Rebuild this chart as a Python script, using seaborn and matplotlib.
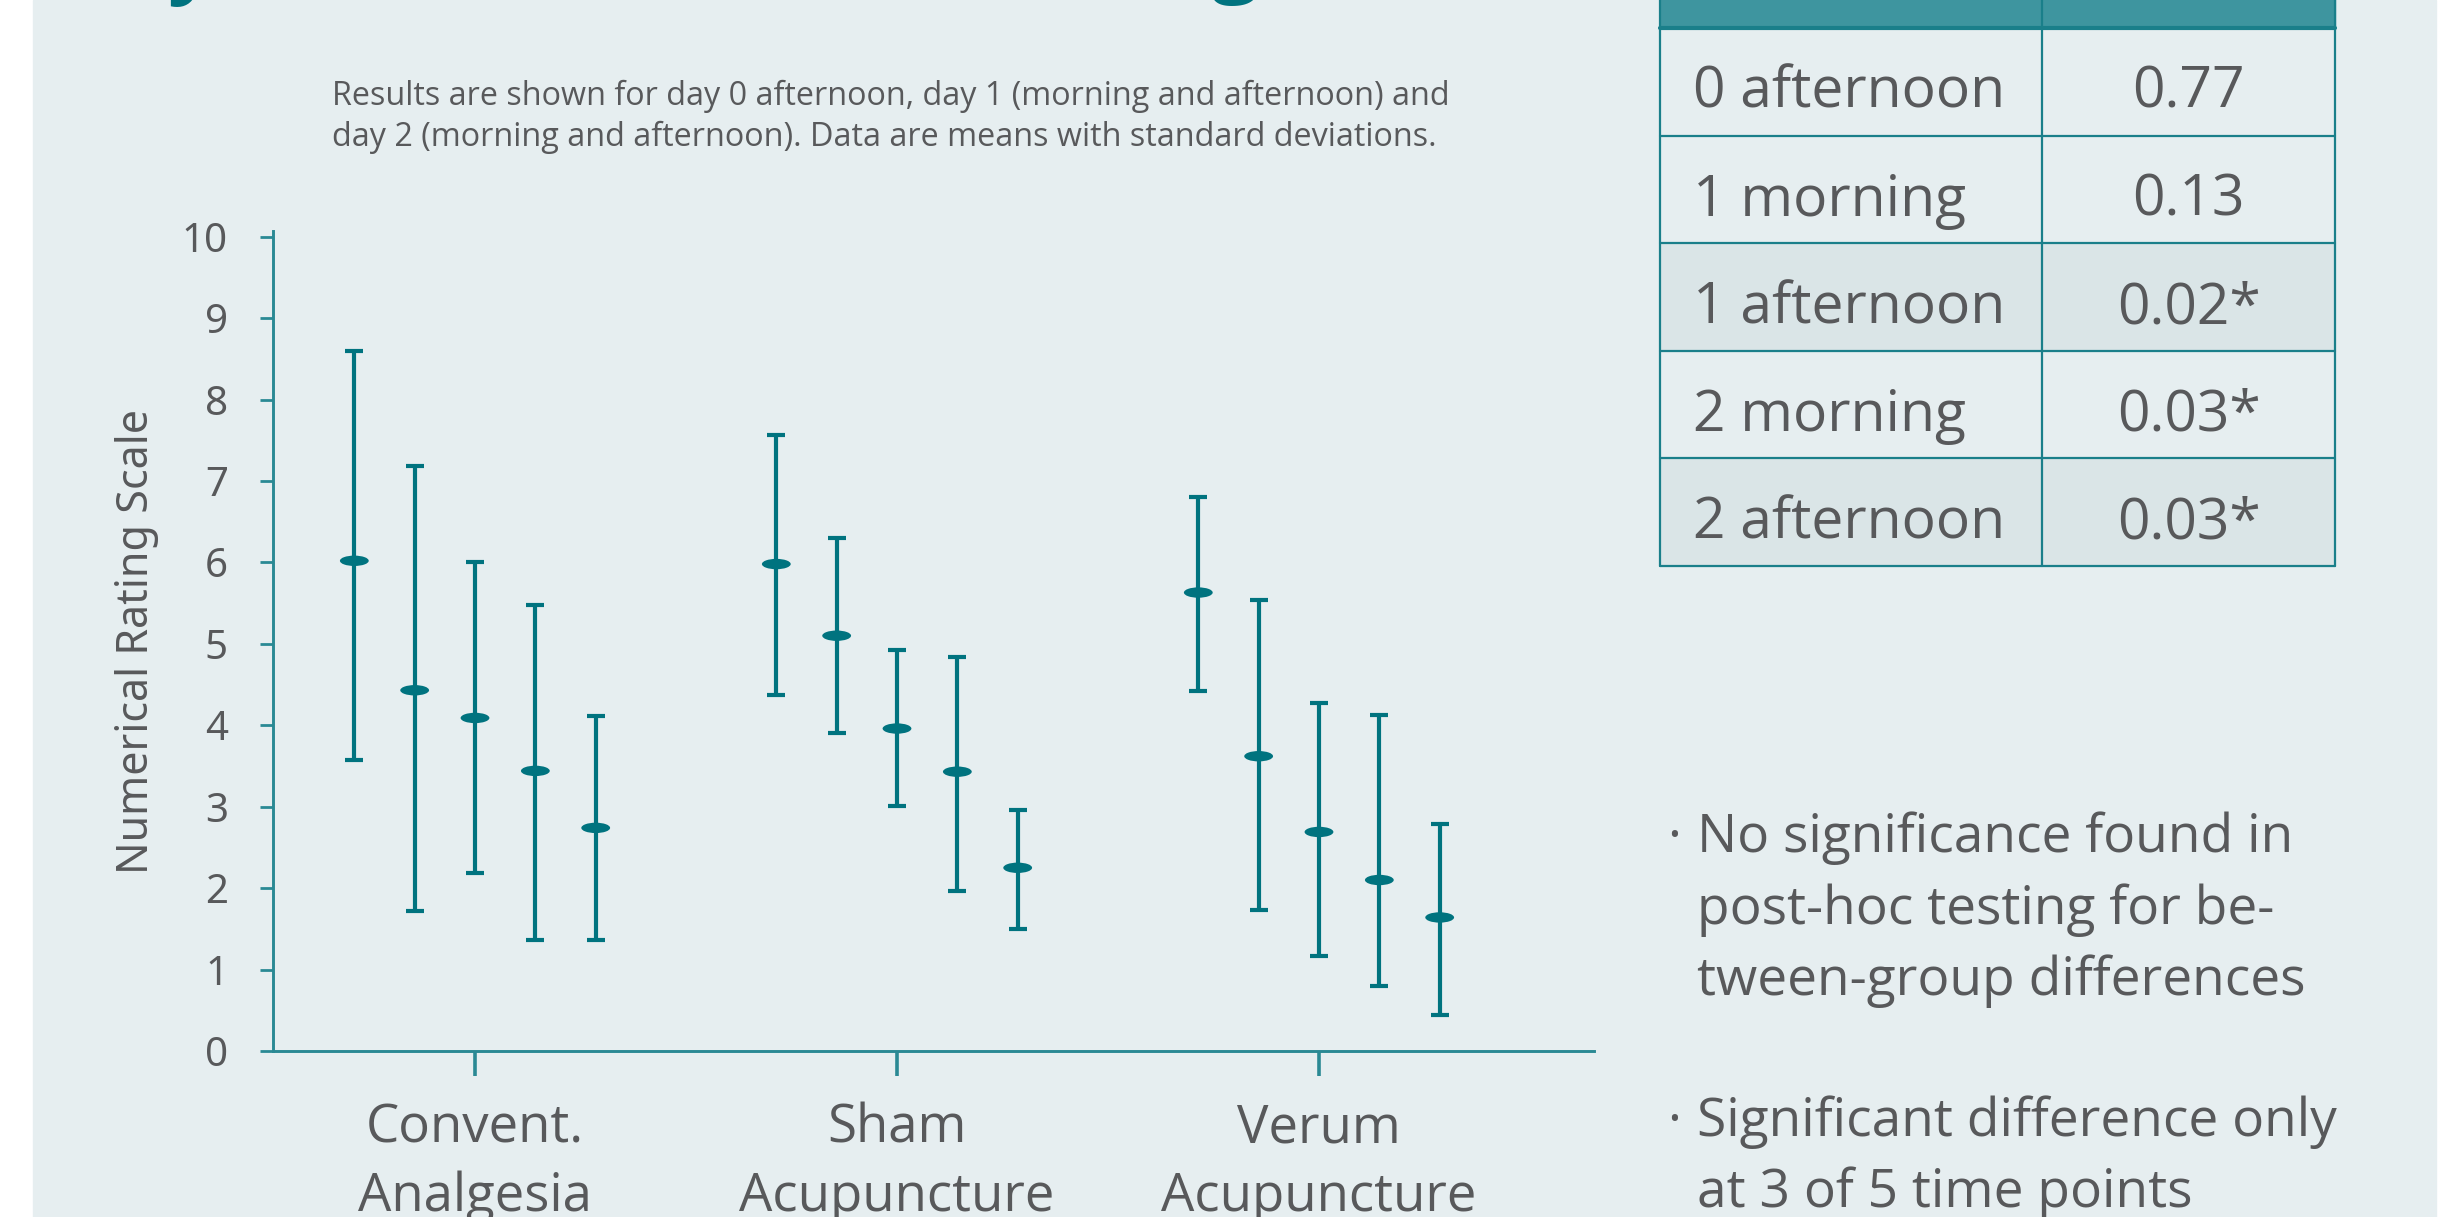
import numpy as np
import pandas as pd
import seaborn as sns
import matplotlib.pyplot as plt
from matplotlib.path import Path
from matplotlib.transforms import Affine2D
from matplotlib.patches import Rectangle

# Groups, time points and p-values (repeated measures comparison)
groups = ["Convent.\nAnalgesia", "Sham\nAcupuncture", "Verum\nAcupuncture"]
time_points = ["0 afternoon", "1 morning", "1 afternoon", "2 morning", "2 afternoon"]
p_values = ["0.77", "0.13", "0.02*", "0.03*", "0.03*"]

# NRS means with the ends of the standard deviation whiskers, per time point
means_convent = [6.02, 4.43, 4.09, 3.44, 2.74]
upper_convent = [8.60, 7.18, 6.01, 5.48, 4.12]
lower_convent = [3.57, 1.72, 2.19, 1.36, 1.36]

means_sham = [5.98, 5.10, 3.96, 3.43, 2.25]
upper_sham = [7.56, 6.30, 4.93, 4.84, 2.96]
lower_sham = [4.37, 3.90, 3.01, 1.97, 1.50]

means_verum = [5.63, 3.62, 2.69, 2.10, 1.64]
upper_verum = [6.80, 5.54, 4.27, 4.13, 2.79]
lower_verum = [4.42, 1.73, 1.17, 0.80, 0.44]

y_ticks = [0, 1, 2, 3, 4, 5, 6, 7, 8, 9, 10]

subtitle = ["Results are shown for day 0 afternoon, day 1 (morning and afternoon) and",
            "day 2 (morning and afternoon). Data are means with standard deviations."]
notes = [["No significance found in", "post-hoc testing for be-", "tween-group differences"],
         ["Significant difference only", "at 3 of 5 time points"]]
shaded_rows = [False, False, True, False, True]

W, H = 2446, 1217
TEAL = "#00737F"
AXIS = "#2A8994"
GREY = "#58595B"
BG = "#E6EEF0"
SHADE = "#DAE5E7"
HEADER = "#3E959F"
GRID = "#1A7F8A"

sns.set_style("ticks")
plt.rcParams['font.family'] = ['Open Sans', 'DejaVu Sans']

fig = plt.figure(figsize=(W / 100, H / 100), dpi=100, facecolor="white")

# background layer in pixel coordinates
bg = fig.add_axes([0, 0, 1, 1], zorder=0)
bg.set_xlim(0, W)
bg.set_ylim(H, 0)
bg.axis("off")
bg.add_patch(Rectangle((33, 0), 2403, H, color=BG, zorder=0))

# build long table of points
rows = []
series = [(means_convent, lower_convent, upper_convent),
          (means_sham, lower_sham, upper_sham),
          (means_verum, lower_verum, upper_verum)]
for g, (m, lo, hi) in enumerate(series):
    for j, tp in enumerate(time_points):
        rows.append({"group": g, "time": tp, "x": g + (j - 2) * 0.143,
                     "mean": m[j], "err_lo": m[j] - lo[j], "err_hi": hi[j] - m[j]})
df = pd.DataFrame(rows)

ax = fig.add_axes([273 / W, 1 - 1051 / H, 1321 / W, 820 / H], zorder=1)
ax.patch.set_alpha(0)

ax.errorbar(df["x"], df["mean"], yerr=[df["err_lo"], df["err_hi"]], fmt="none",
            ecolor=TEAL, elinewidth=3.0, capsize=6.8, capthick=3.0, zorder=2)
ellipse = Path.unit_circle().transformed(Affine2D().scale(1, 0.36))
sns.scatterplot(data=df, x="x", y="mean", marker=ellipse, s=430, color=TEAL,
                edgecolor="none", linewidth=0, legend=False, ax=ax, zorder=3)

ax.set_xlim(-0.4787, 2.6517)
ax.set_ylim(0, 10.07)
ax.set_xticks([0, 1, 2])
ax.set_xticklabels(groups, fontsize=38, color=GREY, linespacing=1.36)
ax.set_yticks(y_ticks)
ax.set_yticklabels([str(t) for t in y_ticks], fontsize=29, color=GREY,
                   fontfamily="Noto Sans")
ax.set_xlabel("")
ax.set_ylabel("Numerical Rating Scale", fontsize=31, color=GREY,
              fontfamily="Noto Sans")
ax.yaxis.set_label_coords(-0.086, 0.5)

sns.despine(ax=ax)
for side in ["left", "bottom"]:
    ax.spines[side].set_color(AXIS)
    ax.spines[side].set_linewidth(2.1)
ax.tick_params(axis="y", length=9.4, width=2, color=AXIS, pad=23)
ax.tick_params(axis="x", length=18, width=2.6, color=AXIS, pad=19)

# subtitle above the plot
for i, line in enumerate(subtitle):
    bg.text(332, 105 + i * 41.5, line, fontsize=23.3, color=GREY, va="baseline")

# cut-off slide title (only descenders visible at the top edge)
bg.text(168, -13, "y", fontsize=60, fontweight="bold", color=TEAL, va="baseline")
bg.text(1212, -14, "g", fontsize=60, fontweight="bold", color=TEAL, va="baseline")

# p-value table
t_left, t_mid, t_right = 1660, 2042, 2335
row_top, row_h = 28, 107.6
bg.add_patch(Rectangle((t_left, -80), t_right - t_left, 80 + row_top,
                       color=HEADER, zorder=1))
bg.text(1693, -14, "Day", fontsize=41, fontweight="bold", color="white",
        va="baseline", zorder=2)
for i, (tp, pv) in enumerate(zip(time_points, p_values)):
    y0 = row_top + i * row_h
    if shaded_rows[i]:
        bg.add_patch(Rectangle((t_left, y0), t_right - t_left, row_h,
                               color=SHADE, zorder=1))
    bg.text(1693, y0 + 80, tp, fontsize=41, color=GREY, va="baseline", zorder=3)
    bg.text((t_mid + t_right) / 2, y0 + 80, pv, fontsize=41, color=GREY,
            ha="center", va="baseline", zorder=3)
t_bottom = row_top + len(time_points) * row_h
for i in range(1, len(time_points) + 1):
    y0 = row_top + i * row_h
    bg.plot([t_left, t_right], [y0, y0], color=GRID, lw=1.6, zorder=2)
bg.plot([t_left, t_right], [row_top, row_top], color=GRID, lw=3, zorder=2)
for xv in [t_left, t_mid, t_right]:
    bg.plot([xv, xv], [-80, t_bottom], color=GRID, lw=1.6, zorder=2)

# bullet notes
y_line = 852
for block in notes:
    bg.text(1667, y_line, "\u00b7", fontsize=38, color=GREY, va="baseline")
    for line in block:
        bg.text(1697, y_line, line, fontsize=38.3, color=GREY, va="baseline")
        y_line += 71.7
    y_line += 68.6

fig.savefig("out.png", dpi=100, facecolor="white")
